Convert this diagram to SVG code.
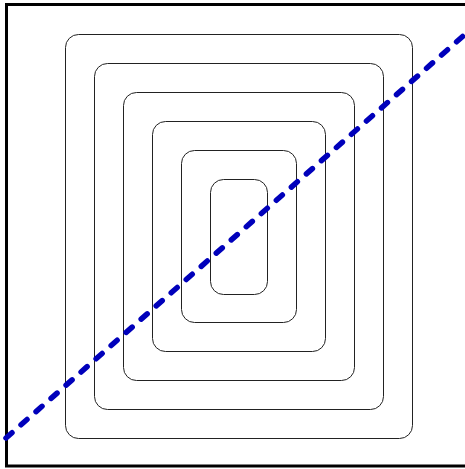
<svg xmlns="http://www.w3.org/2000/svg" width="465" height="469" viewBox="0 0 465 469">
<style>
.r{fill:none;stroke:#222;stroke-width:1}
</style>
<rect x="0" y="0" width="465" height="469" fill="#fff"/>
<rect x="6.5" y="4.5" width="470" height="461.5" fill="none" stroke="#000" stroke-width="3"/>
<g id="rect1"><rect class="r" x="65.5" y="34.5" width="347" height="404" rx="13"/></g>
<g id="rect2"><rect class="r" x="94.5" y="63.5" width="289" height="346" rx="13"/></g>
<g id="rect3"><rect class="r" x="123.5" y="92.5" width="231" height="288" rx="13"/></g>
<g id="rect4"><rect class="r" x="152.5" y="121.5" width="173" height="230" rx="13"/></g>
<g id="rect5"><rect class="r" x="181.5" y="150.5" width="115" height="172" rx="13"/></g>
<g id="rect6"><rect class="r" x="210.5" y="179.5" width="57" height="115" rx="13"/></g>
<g id="connectors">
<line x1="6" y1="438" x2="470" y2="30" stroke="#0000bb" stroke-width="5.5" stroke-linecap="round" stroke-dasharray="8 12"/>
</g>
</svg>
